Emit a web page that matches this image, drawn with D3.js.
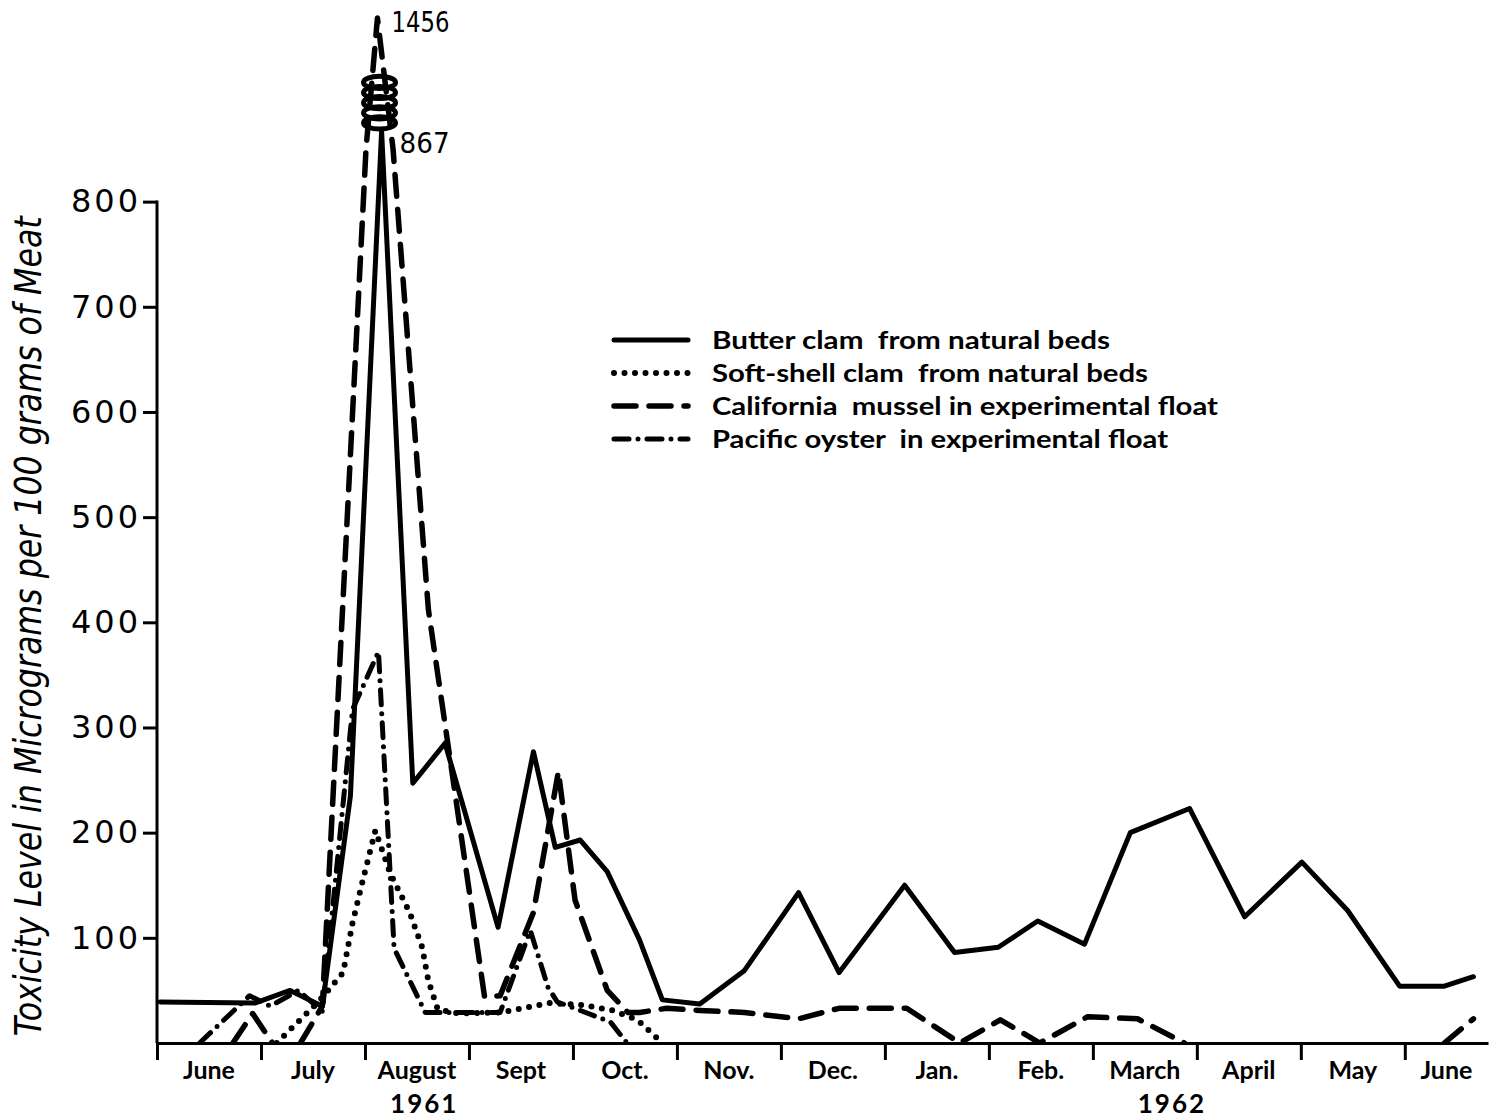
<!DOCTYPE html>
<html><head><meta charset="utf-8">
<script src="https://cdn.jsdelivr.net/npm/d3@7"></script>
<style>
html,body{margin:0;padding:0;background:#fff;}
svg{display:block;}
</style></head><body>
<svg id="chart" width="1492" height="1119"></svg>
<script>
// ---- data (x in months since 1 June 1961, y in micrograms / 100 g) ----
const monthLabels = ["June","July","August","Sept","Oct.","Nov.","Dec.","Jan.","Feb.","March","April","May","June"];
const yearLabels = ["1961","1962"];
const yearMonths = [2.57, 9.76];
const yTicks = [100,200,300,400,500,600,700,800];

const butterClam = [[0.03,39],[0.94,38],[1.28,50],[1.59,35],[1.86,235],[2.16,867],[2.46,247],[2.77,285],[3.28,110],[3.62,277],[3.83,186],[4.07,193],[4.33,163],[4.64,98],[4.86,41],[5.22,37],[5.65,69],[6.17,143],[6.56,67],[7.19,150],[7.67,86],[8.09,91],[8.47,116],[8.92,94],[9.36,200],[9.93,223],[10.46,120],[11.01,172],[11.45,126],[11.95,54],[12.38,54],[12.66,63]];
const softShellClam = [[1.15,0],[1.54,38],[1.63,48],[1.79,67],[1.88,114],[1.98,155],[2.10,202],[2.24,162],[2.43,124],[2.55,91],[2.61,59],[2.70,32],[2.91,28],[3.30,29],[3.78,38],[4.10,36],[4.38,31],[4.62,22],[4.86,0]];
const californiaMussel = [[0.73,0],[0.92,28],[1.11,0],[1.38,0],[1.59,35],[2.01,850],[2.12,1456],[2.27,850],[2.61,412],[3.15,44],[3.30,45],[3.62,124],[3.86,258],[4.02,136],[4.33,50],[4.53,29],[4.64,29],[4.90,33],[5.22,31],[5.65,29],[6.17,23],[6.56,33],[7.21,33],[7.72,0],[8.11,22],[8.49,0],[8.95,25],[9.43,23],[9.88,0],[12.38,0],[12.66,23]];
const pacificOyster = [[0.41,0],[0.89,45],[1.09,35],[1.36,50],[1.59,30],[1.88,317],[2.13,372],[2.28,90],[2.58,29],[3.30,29],[3.59,107],[3.76,53],[3.85,39],[4.07,31],[4.36,20],[4.52,0]];

const peakLabels = [{text:"1456", month:2.12, value:1456}, {text:"867", month:2.16, value:867}];
const breakRange = [870, 1140];

const legendLabels = ["Butter clam  from natural beds","Soft-shell clam  from natural beds","California  mussel in experimental float","Pacific oyster  in experimental float"];

// ---- styles ----
const styles = {
  solid:   {dash:null,        width:5,   cap:"round"},
  dotted:  {dash:"0 10.5",    width:6,   cap:"round"},
  dashed:  {dash:"22 13",     width:5.5, cap:"round"},
  dashdot: {dash:"15 9 0 9",  width:5,   cap:"round"}
};
const seriesList = [
  {data:softShellClam, style:"dotted"},
  {data:pacificOyster, style:"dashdot"},
  {data:californiaMussel, style:"dashed"},
  {data:butterClam, style:"solid"}
];
const legendStyles = ["solid","dotted","dashed","dashdot"];
const legendWidths = [398, 436, 506, 456];

const svg = d3.select("#chart");
const x = d3.scaleLinear().domain([0, 12.8]).range([157, 1488]);
const y = d3.scaleLinear().domain([0, 870, 1456]).range([1043, 128, 18]);

svg.append("defs").append("clipPath").attr("id","plotclip")
  .append("rect").attr("x",0).attr("y",0).attr("width",1492).attr("height",y(0));

// ---- axes ----
const yAxis = d3.axisLeft(y).tickValues(yTicks).tickSize(14).tickPadding(2).tickFormat(d3.format("d"));
const gy = svg.append("g").attr("transform",`translate(${x(0)},0)`).call(yAxis);
gy.select(".domain").remove();
gy.append("line").attr("x1",0).attr("x2",0).attr("y1",y(800)-1).attr("y2",y(0))
  .attr("stroke","#000").attr("stroke-width",3);
gy.selectAll(".tick line").attr("stroke","#000").attr("stroke-width",3);
gy.selectAll(".tick text").attr("fill","#000")
  .style("font-family","'DejaVu Sans', sans-serif").style("font-size","32px")
  .style("letter-spacing","3px");

const xAxis = d3.axisBottom(x).tickValues(d3.range(0,13)).tickSize(17).tickSizeOuter(0).tickFormat("");
const gx = svg.append("g").attr("transform",`translate(0,${y(0)})`).call(xAxis);
gx.select(".domain").attr("stroke","#000").attr("stroke-width",3);
gx.selectAll(".tick line").attr("stroke","#000").attr("stroke-width",3);

svg.append("g").selectAll("text").data(monthLabels).join("text")
  .attr("x",(d,i)=> i < 12 ? x(i+0.5) : x((12 + x.domain()[1]) / 2))
  .attr("y", y(0)+36)
  .attr("text-anchor","middle")
  .style("font-family","Lato, 'DejaVu Sans', sans-serif").style("font-weight","bold")
  .style("font-size","25px")
  .text(d=>d);

svg.append("g").selectAll("text").data(yearLabels).join("text")
  .attr("x",(d,i)=>x(yearMonths[i])).attr("y", y(0)+70)
  .attr("text-anchor","middle")
  .style("font-family","Lato, 'DejaVu Sans', sans-serif").style("font-weight","bold")
  .style("font-size","26px").style("letter-spacing","2px")
  .text(d=>d);

svg.append("text")
  .attr("transform",`translate(41,${(y(800)+y(0))/2 + 4}) rotate(-90)`)
  .attr("text-anchor","middle")
  .attr("textLength",820).attr("lengthAdjust","spacingAndGlyphs")
  .style("font-family","'Liberation Sans Narrow','DejaVu Sans Condensed','Liberation Sans',sans-serif")
  .style("font-style","italic").style("font-size","37px")
  .text("Toxicity Level in Micrograms per 100 grams of Meat");

// ---- lines (segments lying along the zero baseline are not drawn) ----
const line = d3.line().x(d=>x(d[0])).y(d=>y(d[1]));
function splitRuns(data){
  const runs = []; let cur = [data[0]];
  for (let i=1;i<data.length;i++){
    if (data[i][1]===0 && data[i-1][1]===0){ if (cur.length>1) runs.push(cur); cur=[data[i]]; }
    else cur.push(data[i]);
  }
  if (cur.length>1) runs.push(cur);
  return runs;
}
const gl = svg.append("g").attr("clip-path","url(#plotclip)");
seriesList.forEach(s=>{
  const st = styles[s.style];
  splitRuns(s.data).forEach(run=>{
    gl.append("path").datum(run).attr("d",line)
      .attr("fill","none").attr("stroke","#000")
      .attr("stroke-width",st.width).attr("stroke-linecap",st.cap).attr("stroke-linejoin","round")
      .attr("stroke-dasharray",st.dash);
  });
});

// ---- scale-break coil ----
const coilX = x(2.14);
const coilTop = y(breakRange[1]), coilBot = y(breakRange[0]);
const nCoils = 5;
const coilStep = (coilBot - coilTop) / nCoils;
svg.append("g").selectAll("ellipse").data(d3.range(nCoils)).join("ellipse")
  .attr("cx",coilX).attr("cy",i=>coilTop + coilStep*(i+0.5))
  .attr("rx",16).attr("ry",coilStep*0.6)
  .attr("fill","none").attr("stroke","#000").attr("stroke-width",5);

// ---- peak labels ----
svg.append("g").selectAll("text").data(peakLabels).join("text")
  .attr("x",(d,i)=>x(d.month) + (i===0 ? 14 : 18))
  .attr("y",(d,i)=>y(d.value) + (i===0 ? 14 : 22))
  .attr("textLength",(d,i)=> i===0 ? 58 : 50).attr("lengthAdjust","spacingAndGlyphs")
  .style("font-family","'DejaVu Sans', sans-serif").style("font-size","29px")
  .text(d=>d.text);

// ---- legend ----
const lg = svg.append("g");
legendLabels.forEach((lab,i)=>{
  const st = styles[legendStyles[i]];
  const yy = 340 + i*33;
  lg.append("line").attr("x1",614).attr("x2",688).attr("y1",yy).attr("y2",yy)
    .attr("stroke","#000").attr("stroke-width",st.width).attr("stroke-linecap",st.cap)
    .attr("stroke-dasharray",st.dash);
  lg.append("text").attr("x",712).attr("y",yy+9)
    .attr("textLength",legendWidths[i]).attr("lengthAdjust","spacingAndGlyphs")
    .style("white-space","pre")
    .style("font-family","Lato, 'DejaVu Sans', sans-serif").style("font-weight","bold")
    .style("font-size","25px")
    .text(lab);
});
</script>
</body></html>
